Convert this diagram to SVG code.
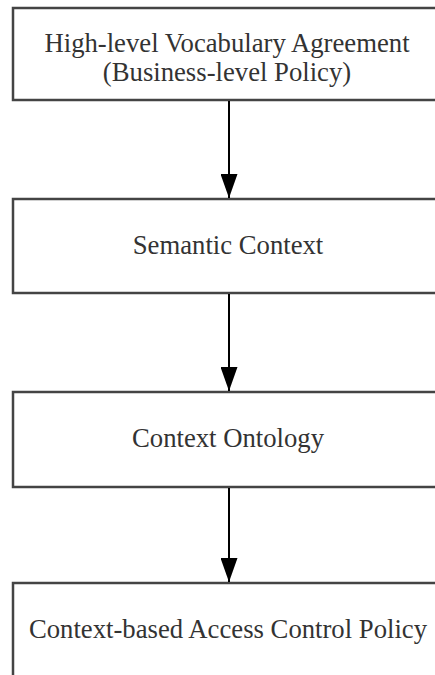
<svg xmlns="http://www.w3.org/2000/svg" width="435" height="675" viewBox="0 0 435 675">
<defs>
<marker id="ah" markerWidth="24" markerHeight="17" refX="24" refY="8.5" orient="auto" markerUnits="userSpaceOnUse" viewBox="0 0 24 17">
<path d="M0,0 L24,8.5 L0,17 Z" fill="#000"/>
</marker>
<style>
.box{fill:#fff;stroke:#444;stroke-width:2.5}
.t{font-family:"Liberation Serif","Times New Roman",serif;font-size:26.7px;fill:#333;text-anchor:middle}
.c{stroke:#000;stroke-width:2;fill:none}
</style>
</defs>
<rect width="435" height="675" fill="#fff"/>
<g id="n1">
<rect class="box" x="13" y="8" width="440" height="92"/>
<text class="t" x="227" y="52">High-level Vocabulary Agreement</text>
<text class="t" x="227" y="81">(Business-level Policy)</text>
</g>
<g id="n2">
<rect class="box" x="13" y="199" width="440" height="94"/>
<text class="t" x="228" y="254">Semantic Context</text>
</g>
<g id="n3">
<rect class="box" x="13" y="392" width="440" height="95"/>
<text class="t" x="228" y="447">Context Ontology</text>
</g>
<g id="n4">
<rect class="box" x="13" y="583" width="440" height="120"/>
<text class="t" x="228" y="638">Context-based Access Control Policy</text>
</g>
<g id="connectors">
<line class="c" x1="229" y1="101" x2="229" y2="198" marker-end="url(#ah)"/>
<line class="c" x1="229" y1="294" x2="229" y2="391" marker-end="url(#ah)"/>
<line class="c" x1="229" y1="488" x2="229" y2="582" marker-end="url(#ah)"/>
</g>
</svg>
